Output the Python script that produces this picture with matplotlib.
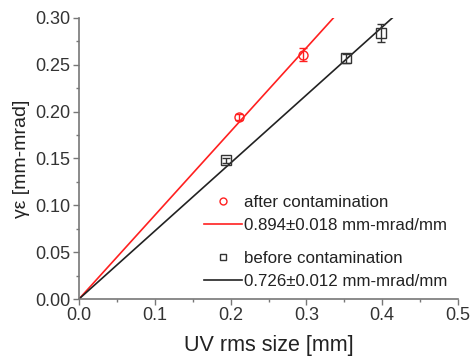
import matplotlib
matplotlib.use("Agg")
import matplotlib.pyplot as plt
from matplotlib.lines import Line2D
import numpy as np

plt.rcParams['font.family'] = ['Liberation Sans', 'DejaVu Sans']

# data
after_x = [0.211, 0.296]
after_y = [0.194, 0.261]
after_err = [0.003, 0.007]
before_x = [0.194, 0.352, 0.399]
before_y = [0.148, 0.257, 0.284]
before_err = [0.003, 0.005, 0.010]
slope_after = 0.894
slope_before = 0.726
label_after = "after contamination"
label_after_fit = "0.894\u00b10.018 mm-mrad/mm"
label_before = "before contamination"
label_before_fit = "0.726\u00b10.012 mm-mrad/mm"

W, H = 470, 357
fig = plt.figure(figsize=(W/100, H/100), dpi=100)
ax = fig.add_axes([79/W, 1-299/H, (458-79)/W, (299-18)/H])

red = '#ff2020'
blk = '#222222'

xa = np.array([0, 0.30/slope_after])
xb = np.array([0, 0.30/slope_before])
ax.plot(xa, slope_after*xa, color=red, lw=1.2)
ax.plot(xb, slope_before*xb, color=blk, lw=1.2)
ax.errorbar(after_x, after_y, yerr=after_err, fmt='o', ms=6.5, mfc='none', mec=red, ecolor=red,
            elinewidth=1, capsize=3, mew=1)
ax.errorbar(before_x, before_y, yerr=before_err, fmt='s', ms=6.5, mfc='none', mec='#333333', ecolor='#333333',
            elinewidth=1, capsize=3, mew=1)

ax.set_xlim(0, 0.5)
ax.set_ylim(0, 0.30)
ax.set_xticks(np.arange(0, 0.51, 0.1))
ax.set_xticks(np.arange(0.05, 0.5, 0.1), minor=True)
ax.set_yticks(np.arange(0, 0.301, 0.05))
ax.set_yticks(np.arange(0.025, 0.3, 0.05), minor=True)
ax.set_xticklabels(['0.0', '0.1', '0.2', '0.3', '0.4', '0.5'])
ax.set_yticklabels(['0.00', '0.05', '0.10', '0.15', '0.20', '0.25', '0.30'])
for s in ['top', 'right']:
    ax.spines[s].set_visible(False)
for s in ['left', 'bottom']:
    ax.spines[s].set_color('#777777')
    ax.spines[s].set_linewidth(1.2)
ax.tick_params(which='major', direction='out', length=4, width=1, color='#777777', labelsize=13, labelcolor='#333333', pad=2)
ax.tick_params(which='minor', direction='out', length=2.5, width=1, color='#777777')
ax.set_xlabel('UV rms size [mm]', fontsize=15.5, color='#222222', labelpad=8)
ax.set_ylabel('\u03b3\u03b5 [mm-mrad]', fontsize=14, color='#222222', labelpad=4)

h1 = [Line2D([], [], marker='o', ls='none', mfc='none', mec=red, ms=5, mew=1),
      Line2D([], [], color=red, lw=1.2)]
h2 = [Line2D([], [], marker='s', ls='none', mfc='none', mec='#333333', ms=5, mew=1),
      Line2D([], [], color=blk, lw=1.2)]
common = dict(loc='upper left', bbox_transform=fig.transFigure,
              frameon=False, fontsize=12.2, handlelength=2.25, handletextpad=0.1,
              labelspacing=0.45, borderaxespad=0, borderpad=0, labelcolor='#222222')
leg1 = ax.legend(h1, [label_after, label_after_fit], bbox_to_anchor=(204/W, 1-195/H), **common)
ax.add_artist(leg1)
leg2 = ax.legend(h2, [label_before, label_before_fit], bbox_to_anchor=(204/W, 1-251/H), **common)

fig.savefig('out.png', dpi=100)
